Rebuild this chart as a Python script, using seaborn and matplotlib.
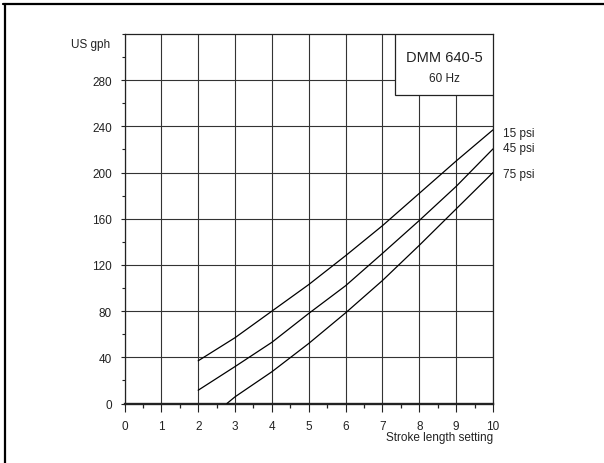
import pandas as pd
import seaborn as sns
from matplotlib import pyplot as plt
from matplotlib.lines import Line2D
from matplotlib.patches import Rectangle
from matplotlib.ticker import MultipleLocator

stroke_15 = [2, 3, 4, 5, 6, 7, 8, 9, 10]
flow_15 = [37, 57, 80, 103, 128, 154, 182, 210, 237]
stroke_45 = [2, 3, 4, 5, 6, 7, 8, 9, 10]
flow_45 = [11.5, 32, 53, 78, 102, 130, 158.5, 188, 220.5]
stroke_75 = [2.78, 3, 4, 5, 6, 7, 8, 9, 10]
flow_75 = [0, 5.8, 27.5, 52, 78.5, 106.5, 137, 168.5, 200]
series_labels = ['15 psi', '45 psi', '75 psi']
x_ticks = list(range(0, 11))
y_ticks = [0, 40, 80, 120, 160, 200, 240, 280]

frames = []
for label, xs, ys in zip(series_labels, [stroke_15, stroke_45, stroke_75], [flow_15, flow_45, flow_75]):
    frames.append(pd.DataFrame({'stroke': xs, 'flow': ys, 'pressure': label}))
plot_data = pd.concat(frames, ignore_index=True)

sns.set_style('white')
plt.rcParams['font.family'] = ['Liberation Sans', 'DejaVu Sans']

fig = plt.figure(figsize=(6.04, 4.64), dpi=100)
ax = fig.add_axes([124.5 / 604, 1 - 404.5 / 464, (493 - 124.5) / 604, (404.5 - 35) / 464])

sns.lineplot(data=plot_data, x='stroke', y='flow', units='pressure', estimator=None,
             color='black', linewidth=0.9, ax=ax, legend=False, zorder=4)

ax.set_xlim(0, 10)
ax.set_ylim(0, 320)
ax.set_xticks(x_ticks)
ax.set_yticks(y_ticks)
ax.xaxis.set_minor_locator(MultipleLocator(0.5))
ax.yaxis.set_minor_locator(MultipleLocator(20))
ax.grid(True, which='major', color='#333333', linewidth=0.8)
ax.set_axisbelow(True)

for side in ['left', 'right', 'top']:
    ax.spines[side].set_color('#222222')
    ax.spines[side].set_linewidth(0.9)
ax.spines['bottom'].set_color('#222222')
ax.spines['bottom'].set_linewidth(1.7)

ax.tick_params(axis='x', which='major', direction='out', length=5.8, width=0.8, pad=6,
               labelsize=8.5, colors='#222222', bottom=True)
ax.tick_params(axis='x', which='minor', direction='out', length=3, width=0.9, bottom=True,
               colors='#222222')
ax.tick_params(axis='y', which='major', direction='out', length=3, width=0.8, pad=6,
               labelsize=8.5, colors='#222222', left=True)
ax.tick_params(axis='y', which='minor', direction='out', length=2, width=0.8, left=True,
               colors='#222222')

ax.set_xlabel('')
ax.set_ylabel('')
ax.text(10, -29, 'Stroke length setting', ha='right', va='center', fontsize=8.5,
        color='#222222', clip_on=False)
ax.text(-0.38, 311, 'US gph', ha='right', va='center', fontsize=8.5, color='#222222',
        clip_on=False)

# title box in the upper right corner
ax.add_patch(Rectangle((7.35, 267), 2.65, 53, facecolor='white', edgecolor='#222222',
                       linewidth=0.9, zorder=3))
ax.text(8.675, 300.5, 'DMM 640-5', ha='center', va='center', fontsize=10.5, color='#222222', zorder=5)
ax.text(8.675, 281.5, '60 Hz', ha='center', va='center', fontsize=8.5, color='#222222', zorder=5)

# curve labels
for label, y in zip(series_labels, [234.6, 221, 198.7]):
    ax.text(10.27, y, label, ha='left', va='center', fontsize=8.5, color='#222222', clip_on=False)

# outer frame (top and left edges)
fig.add_artist(Line2D([3 / 604, 1], [1 - 4.5 / 464, 1 - 4.5 / 464], color='black', linewidth=1.6))
fig.add_artist(Line2D([4.5 / 604, 4.5 / 604], [0, 1 - 4.5 / 464], color='black', linewidth=1.6))

fig.savefig('out.png', dpi=100)
